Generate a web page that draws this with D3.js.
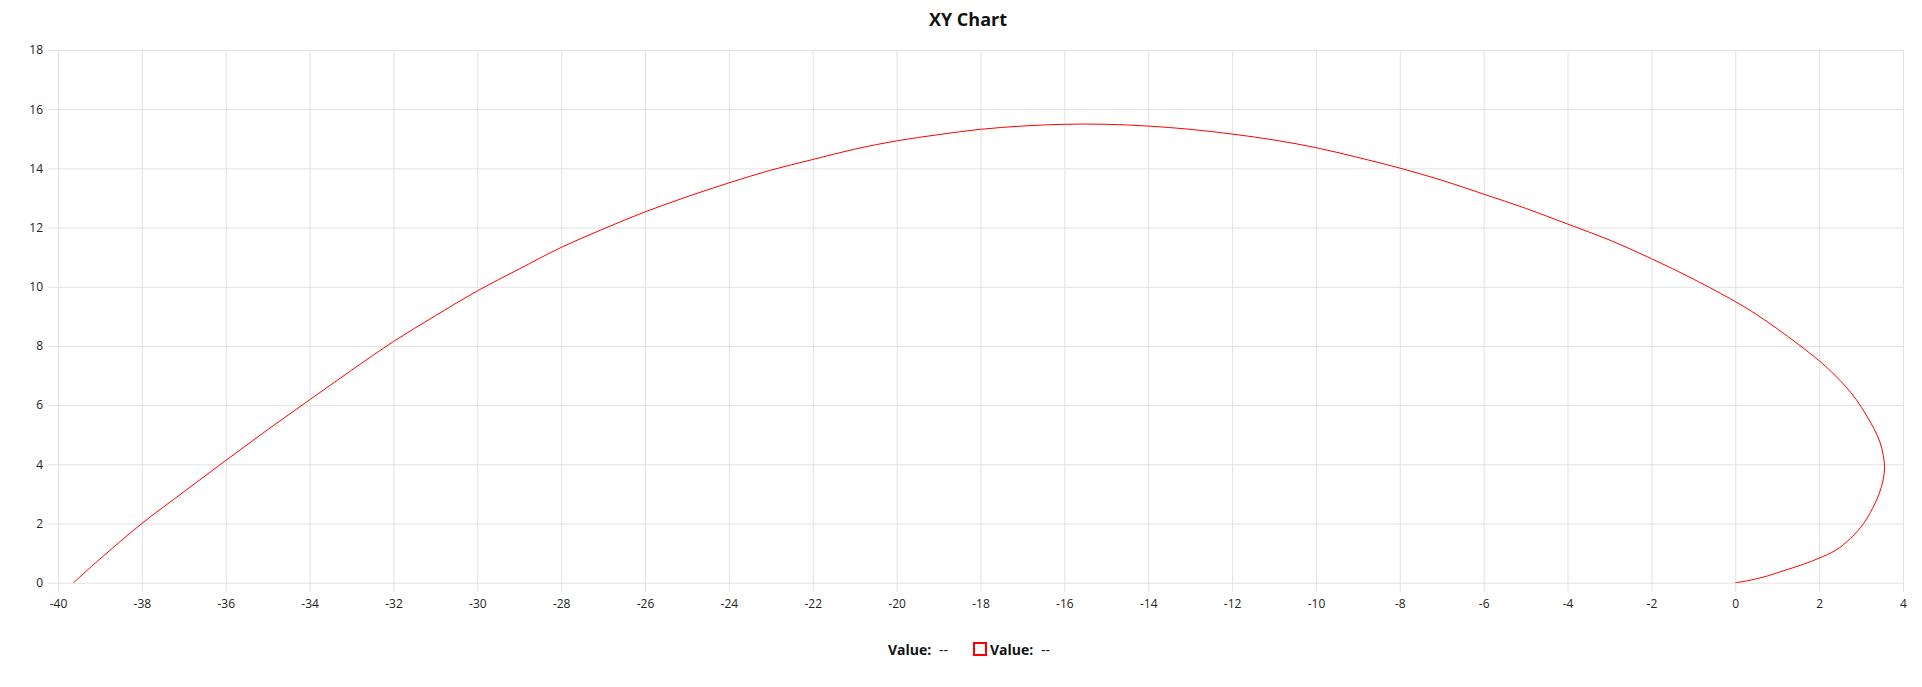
<!DOCTYPE html>
<html>
<head>
<meta charset="utf-8">
<script src="https://cdn.jsdelivr.net/npm/d3@7"></script>
<style>
html,body{margin:0;padding:0;background:#fff;}
svg{display:block;font-family:"Open Sans",sans-serif;}
</style>
</head>
<body>
<svg id="chart" width="1922" height="687"></svg>
<script>
// ---- data ----
const xValues = [0, 0.27, 0.75, 1.14, 1.62, 2.0, 2.4, 2.75, 3.06, 3.27, 3.43, 3.53, 3.56, 3.53, 3.45, 3.31, 3.12, 2.89, 2.6, 2.29, 2.0, 1.5, 1.0, 0.5, 0,
  -1, -2, -3, -4, -5, -6, -7, -8, -9, -10, -11, -12, -13, -14, -15, -16, -17, -18, -19, -20, -21, -22, -23, -24, -25, -26, -27, -28, -29, -30, -31, -32, -33, -34, -35, -36, -37, -38, -39, -39.63];
const yValues = [0, 0.06, 0.22, 0.4, 0.62, 0.83, 1.1, 1.5, 2.0, 2.5, 3.0, 3.5, 3.9, 4.3, 4.75, 5.2, 5.67, 6.18, 6.68, 7.13, 7.5, 8.06, 8.58, 9.07, 9.5,
  10.26, 10.95, 11.58, 12.12, 12.65, 13.13, 13.60, 14.01, 14.37, 14.70, 14.96, 15.16, 15.32, 15.43, 15.49, 15.49, 15.43, 15.32, 15.14, 14.93, 14.65, 14.30, 13.94, 13.51, 13.04, 12.53, 11.95, 11.33, 10.60, 9.86, 9.02, 8.15, 7.18, 6.18, 5.17, 4.13, 3.07, 2.0, 0.8, 0];
const xTicks = [-40, -38, -36, -34, -32, -30, -28, -26, -24, -22, -20, -18, -16, -14, -12, -10, -8, -6, -4, -2, 0, 2, 4];
const yTicks = [0, 2, 4, 6, 8, 10, 12, 14, 16, 18];
const xDomain = [-40, 4];
const yDomain = [0, 18];
const chartTitle = "XY Chart";
const legendLabel = "Value:";
const legendValue = "--";
const seriesColor = "#ff0000";

// ---- layout ----
const svg = d3.select("#chart");
const pLeft = 58, pRight = 1903, pTop = 50, pBottom = 582.7;
const gridColor = "#e2e2e2";
const fmt = d => String(d);

const x = d3.scaleLinear().domain(xDomain).range([pLeft, pRight]);
const y = d3.scaleLinear().domain(yDomain).range([pBottom, pTop]);

// vertical grid + x labels
const gx = svg.append("g")
  .attr("transform", `translate(0,${pTop})`)
  .call(d3.axisBottom(x).tickValues(xTicks).tickSize(pBottom - pTop + 9).tickFormat(fmt));
gx.select(".domain").remove();
gx.selectAll(".tick line").attr("stroke", gridColor).attr("stroke-width", 1);
gx.selectAll(".tick text")
  .attr("y", pBottom - pTop + 17)
  .attr("dy", "0.71em")
  .attr("fill", "#222")
  .style("font-size", "12px")
  .style("font-family", "'Open Sans', sans-serif");

// horizontal grid + y labels
const gy = svg.append("g")
  .attr("transform", `translate(${pRight},0)`)
  .call(d3.axisLeft(y).tickValues(yTicks).tickSize(pRight - 48).tickPadding(5).tickFormat(fmt));
gy.select(".domain").remove();
gy.selectAll(".tick line").attr("stroke", gridColor).attr("stroke-width", 1);
gy.selectAll(".tick text")
  .attr("fill", "#222")
  .style("font-size", "12px")
  .style("font-family", "'Open Sans', sans-serif");

// curve
const pts = xValues.map((v, i) => [v, yValues[i]]);
const line = d3.line().x(d => x(d[0])).y(d => y(d[1])).curve(d3.curveCatmullRom.alpha(0.5));
svg.append("path")
  .datum(pts)
  .attr("d", line)
  .attr("fill", "none")
  .attr("stroke", seriesColor)
  .attr("stroke-width", 1);

// title
svg.append("text")
  .attr("x", 968).attr("y", 26)
  .attr("text-anchor", "middle")
  .attr("fill", "#111")
  .style("font-size", "18px").style("font-weight", "bold")
  .text(chartTitle);

// legend
const lg = svg.append("g").style("font-size", "14px").attr("fill", "#111");
lg.append("text").attr("x", 888).attr("y", 655).style("font-weight", "bold").text(legendLabel);
lg.append("text").attr("x", 939).attr("y", 655).text(legendValue);
lg.append("rect").attr("x", 974).attr("y", 643).attr("width", 12).attr("height", 12)
  .attr("fill", "#fff").attr("stroke", seriesColor).attr("stroke-width", 2);
lg.append("text").attr("x", 990).attr("y", 655).style("font-weight", "bold").text(legendLabel);
lg.append("text").attr("x", 1041).attr("y", 655).text(legendValue);
</script>
</body>
</html>
